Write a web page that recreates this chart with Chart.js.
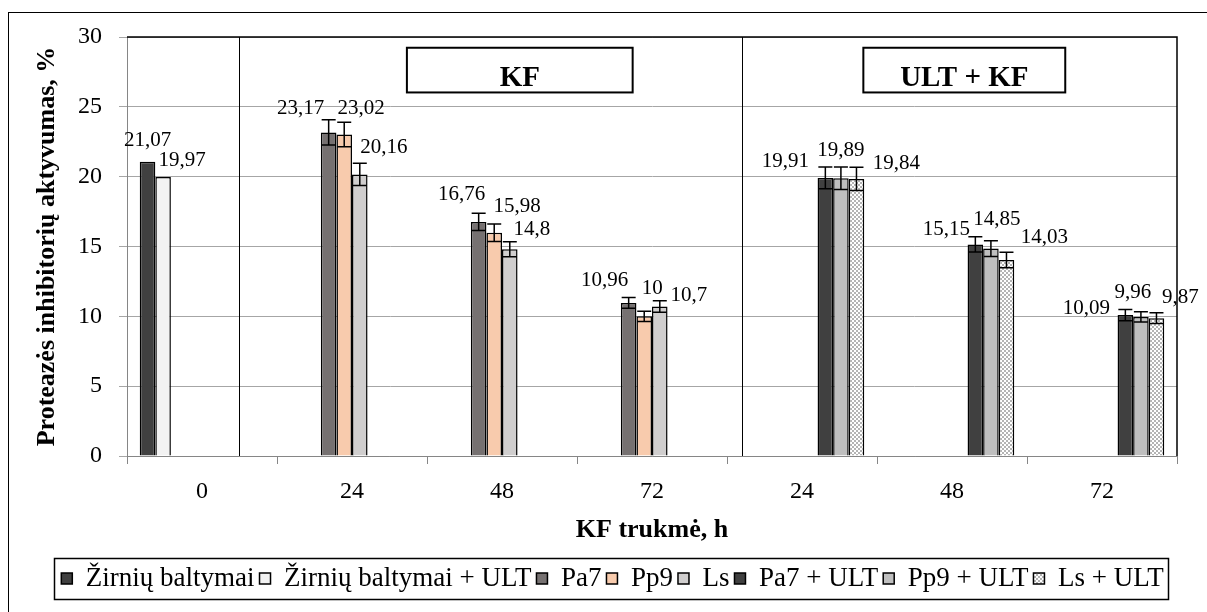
<!DOCTYPE html>
<html>
<head>
<meta charset="utf-8">
<script src="https://cdn.jsdelivr.net/npm/chart.js@4.4.1/dist/chart.umd.min.js"></script>
<style>
  html, body { margin: 0; padding: 0; background: #fff; }
  #wrap { width: 1207px; height: 612px; }
</style>
</head>
<body>
<div id="wrap"><canvas id="chart" width="1207" height="612"></canvas></div>
<script>
// categories and series values (null = no bar in that group)
const categories = ['0', '24', '48', '72', '24', '48', '72'];
const seriesNames = ['Žirnių baltymai', 'Žirnių baltymai + ULT', 'Pa7', 'Pp9', 'Ls', 'Pa7 + ULT', 'Pp9 + ULT', 'Ls + ULT'];

const zirniai    = [21.07, null, null, null, null, null, null];
const zirniaiUlt = [19.97, null, null, null, null, null, null];
const pa7        = [null, 23.17, 16.76, 10.96, null, null, null];
const pp9        = [null, 23.02, 15.98, 10, null, null, null];
const ls         = [null, 20.16, 14.8, 10.7, null, null, null];
const pa7Ult     = [null, null, null, null, 19.91, 15.15, 10.09];
const pp9Ult     = [null, null, null, null, 19.89, 14.85, 9.96];
const lsUlt      = [null, null, null, null, 19.84, 14.03, 9.87];

// error bar half-lengths
const errZirniai    = [null, null, null, null, null, null, null];
const errZirniaiUlt = [null, null, null, null, null, null, null];
const errPa7        = [null, 0.9, 0.62, 0.39, null, null, null];
const errPp9        = [null, 0.88, 0.63, 0.37, null, null, null];
const errLs         = [null, 0.8, 0.54, 0.41, null, null, null];
const errPa7Ult     = [null, null, null, null, 0.78, 0.55, 0.4];
const errPp9Ult     = [null, null, null, null, 0.8, 0.56, 0.36];
const errLsUlt      = [null, null, null, null, 0.83, 0.55, 0.38];

const yMin = 0, yMax = 30, yStep = 5;

// group headers and the two vertical dividers (in x-scale units)
const groupBoxes = [
  { text: 'KF', from: 1.366, to: 2.871 },
  { text: 'ULT + KF', from: 4.409, to: 5.755 }
];
const dividers = [0.245, 3.6];

// value label nudges [dx, dy] in px, relative to bar centre / bar top
const labelNudge = [
  [[0, -21], null, null, null, null, null, null],
  [[19, -17], null, null, null, null, null, null],
  [null, [-28, -24], [-17, -27], [-24, -22], null, null, null],
  [null, [17, -26], [23, -26], [8, -28], null, null, null],
  [null, [24, -27], [22, -20], [29, -11], null, null, null],
  [null, null, null, null, [-40, -16], [-29, -15], [-39, -7]],
  [null, null, null, null, [0, -28], [6, -29], [-8, -24]],
  [null, null, null, null, [40, -15], [38, -23], [24, -21]]
];

const serif = '"Liberation Serif", "Times New Roman", serif';

function dotPattern() {
  const c = document.createElement('canvas');
  c.width = 4; c.height = 4;
  const g = c.getContext('2d');
  g.fillStyle = '#b4b4b4'; g.fillRect(0, 0, 4, 4);
  g.fillStyle = '#ffffff';
  g.fillRect(0, 0, 2, 2);
  g.fillRect(2, 2, 2, 2);
  return g.createPattern(c, 'repeat');
}

const values = [zirniai, zirniaiUlt, pa7, pp9, ls, pa7Ult, pp9Ult, lsUlt];
const errors = [errZirniai, errZirniaiUlt, errPa7, errPp9, errLs, errPa7Ult, errPp9Ult, errLsUlt];
const fills = ['#404040', '#f2f2f2', '#767171', '#f8cbad', '#d0cece', '#404040', '#bfbfbf', dotPattern()];

const datasets = values.map((v, i) => ({
  label: seriesNames[i],
  data: v,
  backgroundColor: fills[i],
  borderColor: '#000',
  borderWidth: 1.5,
  categoryPercentage: 0.83,
  barPercentage: 1
}));

const extras = {
  id: 'extras',
  afterLayout(chart) {
    // legend sits a little right of centre in the original
    chart.legend.left += 24;
    chart.legend.right += 24;
  },
  afterDatasetsDraw(chart) {
    const ctx = chart.ctx;
    const x = chart.scales.x, y = chart.scales.y;
    const a = chart.chartArea;
    ctx.save();

    // top and right frame of the plot area
    ctx.strokeStyle = '#000';
    ctx.lineWidth = 1.5;
    ctx.beginPath();
    ctx.moveTo(a.left, a.top);
    ctx.lineTo(a.right, a.top);
    ctx.lineTo(a.right, a.bottom);
    ctx.stroke();

    // dividers
    ctx.lineWidth = 1;
    dividers.forEach(d => {
      const px = Math.round(x.getPixelForValue(d)) + 0.5;
      ctx.beginPath();
      ctx.moveTo(px, a.top);
      ctx.lineTo(px, a.bottom);
      ctx.stroke();
    });

    // group header boxes
    const top = y.getPixelForValue(29.23), bot = y.getPixelForValue(26.03);
    ctx.font = 'bold 29px ' + serif;
    ctx.textAlign = 'center';
    ctx.textBaseline = 'alphabetic';
    groupBoxes.forEach(b => {
      const l = x.getPixelForValue(b.from), r = x.getPixelForValue(b.to);
      ctx.fillStyle = '#fff';
      ctx.fillRect(l, top, r - l, bot - top);
      ctx.lineWidth = 2;
      ctx.strokeRect(l, top, r - l, bot - top);
      ctx.fillStyle = '#000';
      ctx.fillText(b.text, (l + r) / 2, bot - 6);
    });

    // error bars
    ctx.lineWidth = 1.5;
    chart.data.datasets.forEach((ds, i) => {
      const meta = chart.getDatasetMeta(i);
      ds.data.forEach((v, j) => {
        const e = errors[i][j];
        if (v == null || e == null) return;
        const bx = meta.data[j].x;
        const y1 = y.getPixelForValue(v + e), y2 = y.getPixelForValue(v - e);
        ctx.beginPath();
        ctx.moveTo(bx, y1); ctx.lineTo(bx, y2);
        ctx.moveTo(bx - 7, y1); ctx.lineTo(bx + 7, y1);
        ctx.moveTo(bx - 7, y2); ctx.lineTo(bx + 7, y2);
        ctx.stroke();
      });
    });

    // value labels
    ctx.font = '21px ' + serif;
    ctx.fillStyle = '#000';
    ctx.textBaseline = 'middle';
    chart.data.datasets.forEach((ds, i) => {
      const meta = chart.getDatasetMeta(i);
      ds.data.forEach((v, j) => {
        if (v == null) return;
        const n = labelNudge[i][j] || [0, -20];
        const bx = meta.data[j].x;
        const by = y.getPixelForValue(v);
        ctx.fillText(String(v).replace('.', ','), bx + n[0], by + n[1]);
      });
    });
    ctx.restore();
  },
  afterDraw(chart) {
    const ctx = chart.ctx;
    ctx.save();
    // outer frame (only left and top edges fall inside the picture)
    ctx.strokeStyle = '#000';
    ctx.lineWidth = 1;
    ctx.strokeRect(8.5, 12.5, 1400, 800);

    // legend frame
    const hb = chart.legend.legendHitBoxes;
    if (hb && hb.length) {
      const l = Math.min(...hb.map(h => h.left)) - 7;
      const r = Math.max(...hb.map(h => h.left + h.width)) + 5;
      const t = hb[0].top - 7;
      const b = hb[0].top + hb[0].height + 7;
      ctx.lineWidth = 1.5;
      ctx.strokeRect(Math.round(l) + 0.5, Math.round(t) + 0.5, Math.round(r - l), Math.round(b - t));
    }
    ctx.restore();
  }
};

new Chart(document.getElementById('chart').getContext('2d'), {
  type: 'bar',
  data: { labels: categories, datasets: datasets },
  options: {
    responsive: false,
    animation: false,
    layout: { padding: { top: 37, right: 30, bottom: 10, left: 0 } },
    plugins: {
      legend: {
        position: 'bottom',
        labels: {
          font: { family: serif, size: 27 },
          color: '#000',
          boxWidth: 11,
          boxHeight: 11,
          padding: 5
        }
      },
      tooltip: { enabled: false }
    },
    scales: {
      x: {
        afterFit(s) { s.height = 104; },
        grid: { drawOnChartArea: false, drawTicks: true, tickLength: 8, color: '#868686' },
        border: { color: '#868686', width: 1 },
        ticks: { font: { family: serif, size: 24 }, color: '#000', padding: 13 },
        title: {
          display: true,
          text: 'KF trukmė, h',
          font: { family: serif, size: 26, weight: 'bold', lineHeight: 1.2 },
          color: '#000',
          padding: { top: 0, bottom: 14 }
        }
      },
      y: {
        min: yMin,
        max: yMax,
        afterFit(s) { s.width = 127; },
        grid: { color: '#a6a6a6', tickLength: 8 },
        border: { color: '#868686', width: 1 },
        ticks: { stepSize: yStep, font: { family: serif, size: 24 }, color: '#000', padding: 17 },
        title: {
          display: true,
          text: 'Proteazės inhibitorių aktyvumas, %',
          font: { family: serif, size: 26, weight: 'bold', lineHeight: 1.2 },
          color: '#000',
          padding: { top: 32, bottom: 0 }
        }
      }
    }
  },
  plugins: [extras]
});
</script>
</body>
</html>
